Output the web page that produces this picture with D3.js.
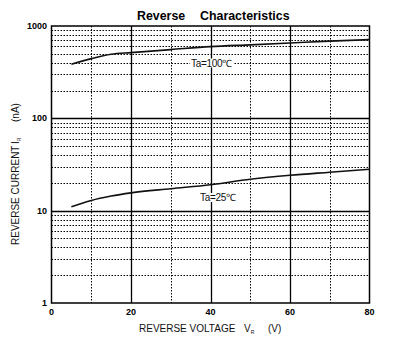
<!DOCTYPE html>
<html><head><meta charset="utf-8">
<script src="https://cdn.jsdelivr.net/npm/d3@7"></script>
<style>body{margin:0;background:#fff}svg{display:block}text{font-family:"Liberation Sans",Arial,sans-serif}</style>
</head><body><div id="c"></div>
<script>
const voltage100 = [5, 10, 15, 20, 30, 40, 50, 60, 70, 80];
const current100 = [385, 443, 494, 515, 555, 598, 625, 654, 685, 712];
const voltage25 = [5, 10, 15, 20, 30, 40, 50, 60, 70, 80];
const current25 = [11.0, 12.9, 14.4, 15.6, 17.3, 19.1, 21.9, 24.2, 26.1, 28.1];
const xTicks = [0, 20, 40, 60, 80];
const yTicks = [1, 10, 100, 1000];
const labels = ["Ta=100℃", "Ta=25℃"];

const W = 399, H = 345;
const m = {l: 51.5, r: 369.5, t: 26, b: 303};
const svg = d3.select("#c").append("svg").attr("width", W).attr("height", H);
const x = d3.scaleLinear().domain([0, 80]).range([m.l, m.r]);
const y = d3.scaleLog().domain([1, 1000]).range([m.b, m.t]);

// minor grid
const minorY = [];
[1, 10, 100].forEach(d => { for (let k = 2; k <= 9; k++) minorY.push(d * k); });
const minorX = [10, 30, 50, 70];
const g = svg.append("g");
g.selectAll(".my").data(minorY).join("line")
  .attr("x1", m.l).attr("x2", m.r)
  .attr("y1", d => Math.round(y(d)) + 0.5).attr("y2", d => Math.round(y(d)) + 0.5)
  .attr("stroke", "#000").attr("stroke-width", 1).attr("stroke-dasharray", "1.5,1.5");
g.selectAll(".mx").data(minorX).join("line")
  .attr("y1", m.t).attr("y2", m.b)
  .attr("x1", d => Math.round(x(d)) + 0.5).attr("x2", d => Math.round(x(d)) + 0.5)
  .attr("stroke", "#000").attr("stroke-width", 1).attr("stroke-dasharray", "1.5,1.5");
// major grid
g.selectAll(".My").data([10, 100]).join("line")
  .attr("x1", m.l).attr("x2", m.r)
  .attr("y1", d => Math.round(y(d)) + 0.5).attr("y2", d => Math.round(y(d)) + 0.5)
  .attr("stroke", "#000").attr("stroke-width", 1.3);
g.selectAll(".Mx").data([20, 40, 60]).join("line")
  .attr("y1", m.t).attr("y2", m.b)
  .attr("x1", d => Math.round(x(d)) + 0.5).attr("x2", d => Math.round(x(d)) + 0.5)
  .attr("stroke", "#000").attr("stroke-width", 1.3);
svg.append("rect").attr("x", m.l).attr("y", m.t).attr("width", m.r - m.l).attr("height", m.b - m.t)
  .attr("fill", "none").attr("stroke", "#000").attr("stroke-width", 1.5);

// axes labels
svg.selectAll(".yt").data(yTicks).join("text")
  .attr("x", 47).attr("y", d => y(d) + 3).attr("text-anchor", "end")
  .attr("font-size", 9).attr("font-weight", "bold").text(d => d);
svg.selectAll(".xt").data(xTicks).join("text")
  .attr("x", d => x(d)).attr("y", 315).attr("text-anchor", "middle")
  .attr("font-size", 9).attr("font-weight", "bold").text(d => d);

// curves
const line = d3.line().x(d => x(d[0])).y(d => y(d[1])).curve(d3.curveMonotoneX);
svg.append("path").datum(voltage100.map((v, i) => [v, current100[i]]))
  .attr("d", line).attr("fill", "none").attr("stroke", "#111").attr("stroke-width", 1.6);
svg.append("path").datum(voltage25.map((v, i) => [v, current25[i]]))
  .attr("d", line).attr("fill", "none").attr("stroke", "#111").attr("stroke-width", 1.6);

// labels with white background
function label(tx, ty, s) {
  const t = svg.append("text").attr("x", tx).attr("y", ty).attr("font-size", 10).attr("fill", "#111")
    .attr("letter-spacing", "-0.3").text(s);
  const b = t.node().getBBox();
  svg.insert("rect", () => t.node()).attr("x", b.x - 1).attr("y", b.y + 1).attr("width", b.width + 2)
    .attr("height", b.height - 2).attr("fill", "#fff");
}
label(191, 66.5, labels[0]);
label(200, 201, labels[1]);

// title
svg.append("text").attr("x", 137).attr("y", 20).attr("font-size", 12.4).attr("font-weight", "bold").text("Reverse");
svg.append("text").attr("x", 200).attr("y", 20).attr("font-size", 12.4).attr("font-weight", "bold").text("Characteristics");

// x title
const xt = svg.append("text").attr("x", 139).attr("y", 332).attr("font-size", 10).attr("fill", "#111");
xt.append("tspan").text("REVERSE VOLTAGE");
xt.append("tspan").attr("x", 244).text("V");
xt.append("tspan").attr("font-size", 5).attr("dy", 2).text("R");
xt.append("tspan").attr("x", 268).attr("dy", -2).text("(V)");

// y title
const yt = svg.append("text").attr("transform", "translate(19,245) rotate(-90)").attr("font-size", 10).attr("fill", "#111");
yt.append("tspan").attr("x", 0).text("REVERSE CURRENT");
yt.append("tspan").attr("x", 101).text("I");
yt.append("tspan").attr("font-size", 5).attr("dy", 2).text("R");
yt.append("tspan").attr("x", 123).attr("dy", -2).text("(nA)");
</script></body></html>
